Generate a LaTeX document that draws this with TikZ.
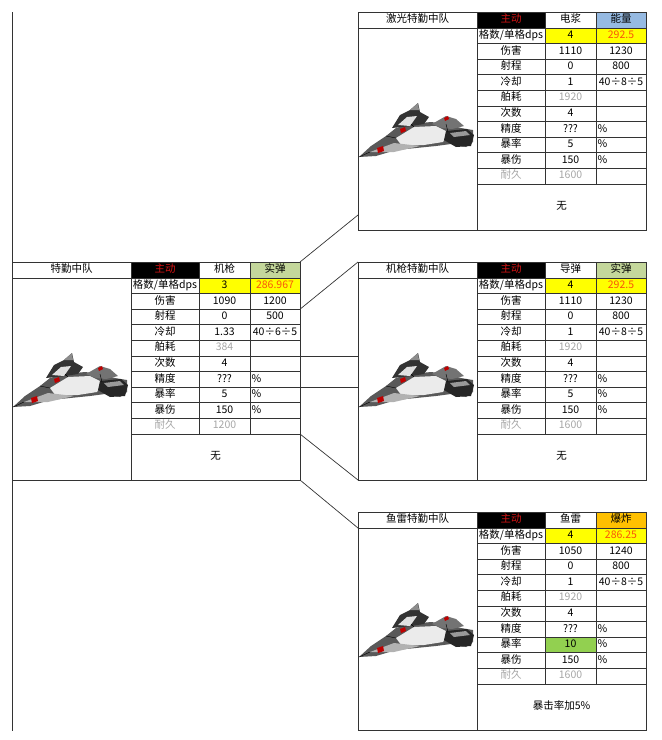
\documentclass[tikz,border=0pt]{standalone}
\usepackage{fontspec}
\setmainfont{Noto Sans CJK SC}
\definecolor{headred}{RGB}{215,20,20}
\definecolor{solidgreen}{RGB}{196,215,155}
\definecolor{energyblue}{RGB}{150,186,226}
\definecolor{blastorange}{RGB}{255,192,0}
\definecolor{dpsyellow}{RGB}{255,255,0}
\definecolor{dpsred}{RGB}{250,85,10}
\definecolor{critgreen}{RGB}{146,208,80}

\tikzset{
  frame/.style={draw=black!80, line width=0.7pt, anchor=north west, outer sep=0pt,
    inner sep=0pt, minimum width=288pt, minimum height=218pt},
  grid line/.style={black!80, line width=0.7pt},
  link/.style={black!80, line width=0.7pt},
  cell/.style={inner sep=0pt, text height=7.5pt, text depth=2pt, font=\fontsize{10.5}{12}\selectfont},
  faded/.style={cell, text=black!35},
  pct/.style={cell, anchor=west},
  craft/.pic={
    % hull
    \fill[black!65] (-57,25) -- (-45,14) -- (-30,4) -- (-20,-4) -- (-5,-8) -- (15,-10) -- (30,-8)
      -- (45,-4) -- (57,-2) -- (57,10) -- (50,15) -- (35,12) -- (20,14) -- (0,16) -- (-20,18) -- (-40,24) -- cycle;
    \fill[black!80] (-24,-4) -- (-16,-17) -- (-6,-22) -- (2,-29) -- (4,-20) -- (13,-15) -- (8,-8) -- (-5,-6) -- cycle;
    \fill[black!12] (-18,-7) -- (-9,-15) -- (1,-16) -- (-6,-6) -- cycle;
    \fill[black!45] (-6,-22) -- (2,-29) -- (3,-22) -- cycle;
    \fill[black!8] (-20,6) -- (-2,-5) -- (20,-6) -- (32,0) -- (27,10) -- (8,13) -- (-14,14) -- cycle;
    \fill[black!30] (-46,20) -- (-22,11) -- (4,14) -- (-22,20) -- cycle;
    \fill[black!55] (16,-8) -- (30,-16) -- (40,-13) -- (48,-6) -- (36,-3) -- (26,-4) -- cycle;
    \fill[black!85] (30,-1) -- (51,-3) -- (58,3) -- (55,14) -- (40,15) -- (28,8) -- cycle;
    \fill[black!40] (34,1) -- (50,-1) -- (54,3) -- (38,5) -- cycle;
    % red marks
    \fill[red!75!black] (-39,16) -- (-33,14) -- (-32,19) -- (-38,21) -- cycle;
    \fill[red!75!black] (-16,-3) -- (-11,-5) -- (-10,-1) -- (-15,1) -- cycle;
    \fill[red!75!black] (28,-14) -- (32,-16) -- (33,-13) -- (29,-11) -- cycle;
    \draw[black, line width=0.4pt] (-30,4) -- (-20,6) (-2,-5) -- (-5,-8) (32,0) -- (30,-8)
      (-46,20) -- (-57,25);
  }
}

% grid, labels and common values of one squadron sheet
\newcommand\sqgrid[5]{%
  \fill[black] (119,0) rectangle (187,16);
  \fill[#5] (238,0) rectangle (288,16);
  \fill[dpsyellow] (187,16) rectangle (288,31.6);
  \node[frame] (#1) at (0,0) {};
  \draw[grid line] (119,0) -- (119,218) (187,0) -- (187,172) (238,0) -- (238,172) (0,16) -- (288,16);
  \foreach \k in {1,...,10} \draw[grid line] (119,{16+15.6*\k}) -- (288,{16+15.6*\k});
  \foreach \k in {0,...,10} {
    \coordinate (#1-w\k) at (0,{16+15.6*\k});
    \coordinate (#1-e\k) at (288,{16+15.6*\k});
  }
  \node[cell] (#1-title) at (59.5,8) {#2};
  \node[cell, text=headred] (#1-mode) at (153,8) {主动};
  \node[cell] (#1-weapon) at (212.5,8) {#3};
  \node[cell] (#1-type) at (263,8) {#4};
  \node[cell] (#1-l1) at (153,23.8) {格数/单格dps};
  \foreach \lab [count=\i from 2] in {伤害,射程,冷却,舶耗,次数,精度,暴率,暴伤}
    \node[cell] (#1-l\i) at (153,{16+15.6*(\i-0.5)}) {\lab};
  \node[faded] (#1-l10) at (153,164.2) {耐久};
  \node[cell] at (212.5,55) {0};
  \node[cell] at (212.5,101.8) {4};
  \node[cell] at (212.5,117.4) {???};
  \node[cell] at (212.5,148.6) {150};
  \foreach \y in {117.4,133,148.6} \node[pct] at (239.5,\y) {\%};
  \pic at (58,120) {craft};
}

% values that differ between sheets
\newcommand\sqvals[9]{%
  \node[cell] at (212.5,23.8) {#1};
  \node[cell, text=dpsred] at (263,23.8) {#2};
  \node[cell] at (212.5,39.4) {#3};
  \node[cell] at (263,39.4) {#4};
  \node[cell] at (263,55) {#5};
  \node[cell] at (212.5,70.6) {#6};
  \node[cell] at (263,70.6) {#7};
  \node[faded] at (212.5,86.2) {#8};
  \node[faded] at (212.5,164.2) {#9};
}

\begin{document}
\begin{tikzpicture}[x=1pt, y=-1pt]
\useasboundingbox (0,0) rectangle (662,740);

\begin{scope}[shift={(12,262)}]
\sqgrid{main}{特勤中队}{机枪}{实弹}{solidgreen}
\sqvals{3}{286.967}{1090}{1200}{500}{1.33}{40÷6÷5}{384}{1200}
\node[cell] at (212.5,133) {5};
\node[cell] (main-note) at (203.5,195) {无};
\end{scope}

\begin{scope}[shift={(358,12)}]
\sqgrid{laser}{激光特勤中队}{电浆}{能量}{energyblue}
\sqvals{4}{292.5}{1110}{1230}{800}{1}{40÷8÷5}{1920}{1600}
\node[cell] at (212.5,133) {5};
\node[cell] (laser-note) at (203.5,195) {无};
\coordinate (laser-in) at (0,203);
\end{scope}

\begin{scope}[shift={(358,262)}]
\sqgrid{mg}{机枪特勤中队}{导弹}{实弹}{solidgreen}
\sqvals{4}{292.5}{1110}{1230}{800}{1}{40÷8÷5}{1920}{1600}
\node[cell] at (212.5,133) {5};
\node[cell] (mg-note) at (203.5,195) {无};
\end{scope}

\begin{scope}[shift={(358,512)}]
\fill[critgreen] (187,125.2) rectangle (238,140.8);
\sqgrid{torp}{鱼雷特勤中队}{鱼雷}{爆炸}{blastorange}
\sqvals{4}{286.25}{1050}{1240}{800}{1}{40÷8÷5}{1920}{1600}
\node[cell] at (212.5,133) {10};
\node[cell] (torp-note) at (203.5,195) {暴击率加5\%};
\end{scope}

% links between the sheets
\draw[link] (12,12) -- (main.north west) (main.south west) -- (12,731);
\draw[link] (main.north east) -- (laser-in);
\draw[link] (main-e2) -- (mg.north west);
\draw[link] (main-e5) -- (mg-w5);
\draw[link] (main-e7) -- (mg-w7);
\draw[link] (main-e10) -- (mg.south west);
\draw[link] (main.south east) -- (torp-w0);
\end{tikzpicture}
\end{document}
